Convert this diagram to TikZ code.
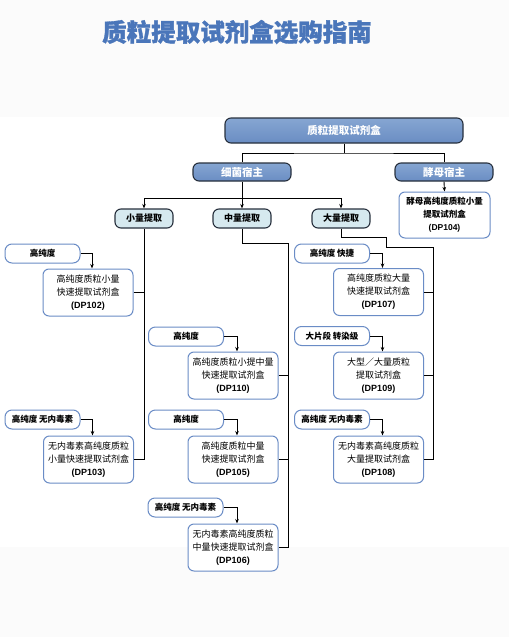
\documentclass[tikz,border=0pt]{standalone}
\usepackage{fontspec}
\setmainfont{Noto Sans CJK SC}
\newfontfamily\latin{Liberation Sans}
\usetikzlibrary{arrows.meta}
\definecolor{titleblue}{HTML}{4A76BA}
\definecolor{headtop}{HTML}{86A6D2}
\definecolor{headbot}{HTML}{6A8DC3}
\definecolor{edgedark}{HTML}{27303D}
\definecolor{sizefill}{HTML}{D6E9EF}
\definecolor{kitedge}{HTML}{6A8CC6}
\definecolor{paper}{HTML}{FBFBFB}
\newcommand{\code}[1]{{\latin\bfseries (#1)}}

\begin{document}
\begin{tikzpicture}[x=1pt, y=-1pt,
	headbox/.style={draw=edgedark, line width=1.1pt, rounded corners=6pt, top color=headtop, bottom color=headbot,
		text=white, font=\fontsize{10.5}{12}\selectfont\bfseries, inner sep=0pt},
	sizebox/.style={draw=edgedark, line width=1.1pt, rounded corners=6pt, fill=sizefill,
		minimum width=58pt, minimum height=19pt, font=\fontsize{9}{11}\selectfont\bfseries, inner sep=0pt},
	tagbox/.style={draw=kitedge, line width=1pt, rounded corners=7pt, fill=white,
		minimum width=75pt, minimum height=19pt, font=\fontsize{8.5}{10}\selectfont\bfseries, inner sep=0pt},
	kitbox/.style={draw=kitedge, line width=1pt, rounded corners=6pt, fill=white, align=center,
		minimum width=90pt, minimum height=47pt, font=\fontsize{9}{13}\selectfont, inner sep=0pt},
	link/.style={line width=0.9pt},
	arr/.style={line width=0.9pt, -{Stealth[length=4.5pt, width=3.5pt]}}]

	% page and band
	\fill[paper] (0,0) rectangle (509,637);
	\fill[white] (0,117) rectangle (509,547);
	\useasboundingbox (0,0) rectangle (509,637);

	\node[text=titleblue, font=\fontsize{24.5}{28}\selectfont\bfseries\addfontfeatures{FakeBold=1.2}] (title) at (237,32) {质粒提取试剂盒选购指南};

	% top levels
	\node[headbox, minimum width=238pt, minimum height=25pt] (top) at (344,130.5) {质粒提取试剂盒};
	\node[headbox, minimum width=98pt, minimum height=18pt] (bact) at (242,172) {细菌宿主};
	\node[headbox, minimum width=98pt, minimum height=18pt] (yeast) at (444,172) {酵母宿主};

	\node[sizebox] (small) at (144,218.5) {小量提取};
	\node[sizebox] (mid) at (242,218.5) {中量提取};
	\node[sizebox] (large) at (341,218.5) {大量提取};

	\node[kitbox, minimum width=91pt, minimum height=46pt, font=\fontsize{8.5}{13}\selectfont\bfseries] (dp104) at (444.5,215)
		{酵母高纯度质粒小量\\提取试剂盒\\\code{DP104}};

	% small
	\node[tagbox] (tag102) at (42.5,253.5) {高纯度};
	\node[kitbox] (dp102) at (88,292.5) {高纯度质粒小量\\快速提取试剂盒\\\code{DP102}};
	\node[tagbox] (tag103) at (42.5,419.5) {高纯度 无内毒素};
	\node[kitbox] (dp103) at (88.5,459.5) {无内毒素高纯度质粒\\小量快速提取试剂盒\\\code{DP103}};

	% mid
	\node[tagbox] (tag110) at (186,336.5) {高纯度};
	\node[kitbox] (dp110) at (233,375.5) {高纯度质粒小提中量\\快速提取试剂盒\\\code{DP110}};
	\node[tagbox] (tag105) at (186,419.5) {高纯度};
	\node[kitbox] (dp105) at (233,459.5) {高纯度质粒中量\\快速提取试剂盒\\\code{DP105}};
	\node[tagbox] (tag106) at (185.5,507.5) {高纯度 无内毒素};
	\node[kitbox] (dp106) at (233,547.5) {无内毒素高纯度质粒\\中量快速提取试剂盒\\\code{DP106}};

	% large
	\node[tagbox] (tag107) at (332,253.5) {高纯度 快捷};
	\node[kitbox] (dp107) at (378.5,292) {高纯度质粒大量\\快速提取试剂盒\\\code{DP107}};
	\node[tagbox] (tag109) at (332,336) {大片段 转染级};
	\node[kitbox] (dp109) at (378.5,375.5) {大型／大量质粒\\提取试剂盒\\\code{DP109}};
	\node[tagbox] (tag108) at (332,419.5) {高纯度 无内毒素};
	\node[kitbox] (dp108) at (378.5,459.5) {无内毒素高纯度质粒\\大量提取试剂盒\\\code{DP108}};

	% tree links
	\coordinate (tb) at (344,153);
	\draw[link] (top.south) -- (tb);
	\draw[link] (bact.north) |- (tb) -| (yeast.north);
	\draw[arr] (yeast.south) -- (dp104.north);

	\coordinate (bb) at (242,198);
	\draw[link] (bact.south) -- (bb);
	\draw[arr] (bb) -| (small.north);
	\draw[arr] (bb) -| (large.north);
	\draw[arr] (bb) -- (mid.north);

	% kits to sizes
	\draw[link] (small.south) |- (dp103.east);
	\draw[link] (dp102.east) -- (dp102.east -| small.south);

	\coordinate (midbus) at (288,243);
	\draw[link] (mid.south) |- (midbus) |- (dp106.east);
	\draw[link] (dp110.east) -- (dp110.east -| midbus);
	\draw[link] (dp105.east) -- (dp105.east -| midbus);

	\coordinate (lgstep) at (386,237);
	\coordinate (lgbus) at (433,247);
	\draw[link] (large.south) |- (lgstep) |- (lgbus) |- (dp108.east);
	\draw[link] (dp107.east) -- (dp107.east -| lgbus);
	\draw[link] (dp109.east) -- (dp109.east -| lgbus);

	% tags to kits
	\foreach \k in {102,103,110,105,106,107,109,108}
		\draw[arr] (tag\k.east) -| ([xshift=4pt]dp\k.north);
\end{tikzpicture}
\end{document}
